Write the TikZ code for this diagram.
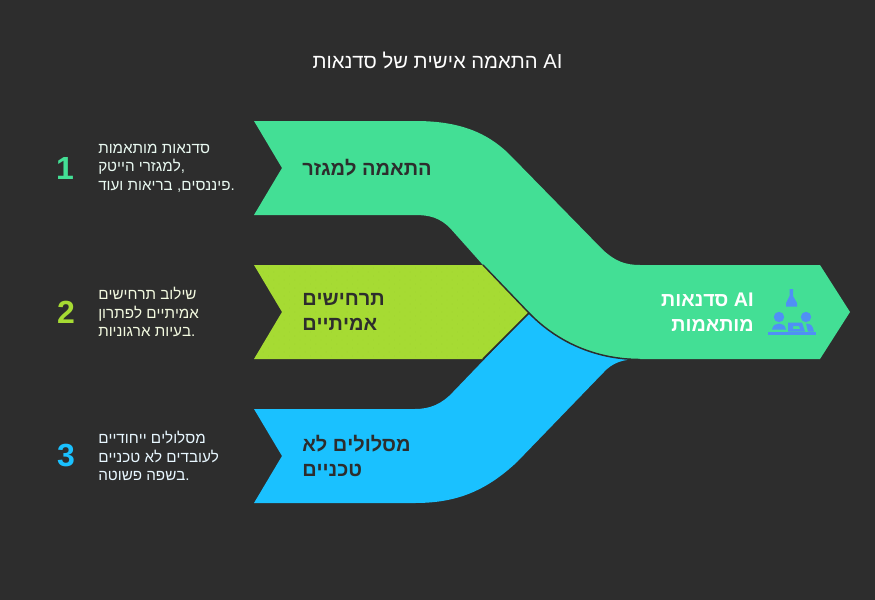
\documentclass[tikz,border=0pt]{standalone}
\usepackage{fontspec}
\setmainfont{Liberation Sans}
\TeXXeTstate=1
\definecolor{bgc}{HTML}{2D2D2D}
\definecolor{greenc}{HTML}{43DF95}
\definecolor{limec}{HTML}{A6DB33}
\definecolor{bluec}{HTML}{1AC1FF}
\definecolor{iconc}{HTML}{5090F5}
\definecolor{dotc}{HTML}{9BCF30}
\definecolor{txta}{HTML}{E9F9F1}
\definecolor{txtb}{HTML}{F3FAE0}
\definecolor{txtc}{HTML}{E8F7FF}
\newcommand{\rl}[1]{\beginR #1\endR}
\tikzset{
  x=0.75pt,y=-0.75pt,
  bodytext/.style={anchor=west,inner sep=0pt,align=left,font=\fontsize{11.4}{13.8}\selectfont},
  numtext/.style={anchor=center,inner sep=0pt,font=\fontsize{24}{24}\selectfont\bfseries},
  labeltext/.style={anchor=west,inner sep=0pt,align=left,text=bgc,font=\fontsize{15}{18.7}\selectfont\bfseries},
  seam/.style={draw=bgc,line width=1.1pt},
  iconpart/.style={fill=iconc,draw=none}
}
\begin{document}
\begin{tikzpicture}
\useasboundingbox (0,0) rectangle (875,600);
\fill[bgc] (0,0) rectangle (875,600);
% title
\node[inner sep=0pt,anchor=center,text=white,font=\fontsize{15.2}{18}\selectfont] (title) at (437.5,60) {\rl{התאמה אישית של סדנאות} AI};
% blue band
\fill[bluec] (254,409) -- (415,409) .. controls (430,409) and (442,404) .. (453,392)
  -- (529,313) .. controls (560,345) and (600,359) .. (640,359)
  .. controls (622,359) and (612,363) .. (603,373) -- (517,462)
  .. controls (485,492) and (455,503) .. (415,503) -- (254,503) -- (282,456) -- cycle;
% lime band
\fill[limec] (254,265) -- (483,265) -- (529,312) -- (483,359) -- (254,359) -- (282,312) -- cycle;
\begin{scope}
\clip (254,265) -- (483,265) -- (529,312) -- (483,359) -- (254,359) -- (282,312) -- cycle;
\foreach \i in {0,...,26}{\foreach \j in {0,...,12}{
  \fill[dotc] ({258+\i*10.5},{268+\j*8}) circle (0.45);
  \fill[dotc] ({263.2+\i*10.5},{272+\j*8}) circle (0.45);
}}
\end{scope}
% green band
\path[fill=greenc] (254,121) -- (415,121) .. controls (455,121) and (485,130) .. (510,155)
  -- (603,250) .. controls (615,261) and (625,265) .. (640,265)
  -- (820,265) -- (850,312) -- (820,359) -- (640,359)
  .. controls (600,359) and (560,345) .. (529,313)
  -- (483,265) -- (450,228) .. controls (440,218) and (430,215) .. (415,215)
  -- (254,215) -- (282,168) -- cycle;
\draw[seam] (640,359.5) .. controls (600,359.5) and (560,345) .. (529,313) -- (483,265);
\draw[seam] (529,313) -- (483,359);
% band labels
\node[labeltext] (lab1) at (302,168) {\rl{התאמה למגזר}};
\node[labeltext] (lab2) at (302,312) {\rl{תרחישים}\\\rl{אמיתיים}};
\node[labeltext] (lab3) at (302,456) {\rl{מסלולים לא}\\\rl{טכניים}};
\node[anchor=east,inner sep=0pt,align=right,text=white,font=\fontsize{14.8}{18.7}\selectfont\bfseries] (lab4) at (754,312) {\rl{סדנאות} AI\\\rl{מותאמות}};
% numbers
\node[numtext,text=greenc] (n1) at (65,168) {1};
\node[numtext,text=limec] (n2) at (66,312) {2};
\node[numtext,text=bluec] (n3) at (66,456) {3};
% side text
\node[bodytext,text=txta] (t1) at (98,168) {\rl{סדנאות מותאמות}\\\rl{למגזרי הייטק},\\\rl{פיננסים, בריאות ועוד}.};
\node[bodytext,text=txtb] (t2) at (98,312) {\rl{שילוב תרחישים}\\\rl{אמיתיים לפתרון}\\\rl{בעיות ארגוניות}.};
\node[bodytext,text=txtc] (t3) at (98,456) {\rl{מסלולים ייחודיים}\\\rl{לעובדים לא טכניים}\\\rl{בשפה פשוטה}.};
% icon
\fill[iconpart] (789.5,289) -- (793,289) -- (793,296) -- (797,303) -- (797,306.5) -- (786,306.5) -- (786,303) -- (789.5,296) -- cycle;
\fill[iconpart] (779,317) circle (5.2);
\fill[iconpart] (806,317) circle (5.2);
\fill[iconpart] (772,329.5) .. controls (773,325) and (776,323.5) .. (779,323.5) .. controls (782,323.5) and (785,325) .. (786,329.5) -- cycle;
\fill[iconpart,even odd rule] (788,322.7) -- (802,322.7) -- (805,331.7) -- (788,331.7) -- cycle (793,326) -- (799,326) -- (800,329) -- (793,329) -- cycle;
\fill[iconpart] (806,323.5) .. controls (811,323.5) and (813,326) .. (814,331.7) -- (808,331.7) -- cycle;
\fill[iconpart] (768,331.7) rectangle (816,335);
\end{tikzpicture}
\end{document}
